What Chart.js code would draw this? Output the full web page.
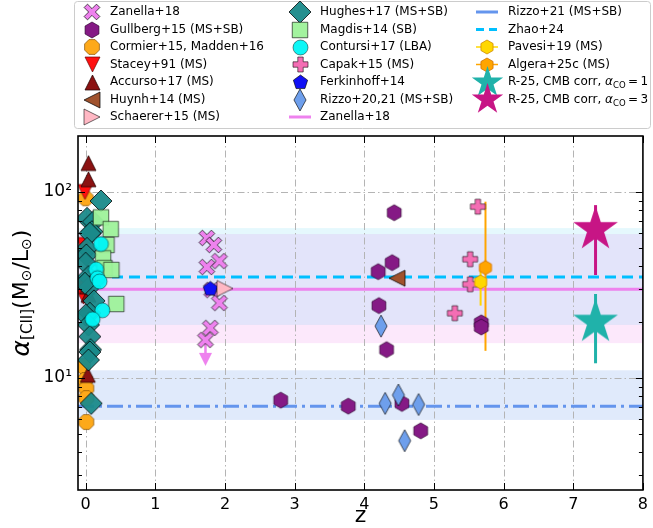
<!DOCTYPE html>
<html>
<head>
<meta charset="utf-8">
<script src="https://cdn.jsdelivr.net/npm/chart.js@4/dist/chart.umd.min.js"></script>
<style>
  html, body { margin: 0; padding: 0; background: #fff; }
  canvas { display: block; }
</style>
</head>
<body>
<canvas id="alphaChart" width="653" height="528"></canvas>
<script>
// ---- axes ----
const xTicks = [0, 1, 2, 3, 4, 5, 6, 7, 8];
const yTicks = [10, 100];
const yTickLabels = ['10\u00b9', '10\u00b2'];
const yMinorTicks = [3, 4, 5, 6, 7, 8, 9, 20, 30, 40, 50, 60, 70, 80, 90];
const zSpan = [-0.11, 8.0];

// ---- literature points (z, alpha_[CII]) ----
const zanellaZ = [1.74, 1.84, 1.92, 1.74, 1.81, 1.92, 1.79, 1.72];
const zanellaA = [56.6, 51.9, 42.5, 39.5, 29.7, 25.3, 18.6, 16.0];
const zanellaLimZ = [1.72, 1.72];
const zanellaLimA = [16.0, 12.6];

const gullbergZ = [4.43, 4.40, 4.20, 4.21, 4.32, 3.77, 4.54, 4.81, 5.68, 5.68, 2.80];
const gullbergA = [77.4, 41.7, 37.3, 24.5, 14.2, 7.06, 7.3, 5.2, 19.8, 18.8, 7.6];

const cormierZ = [0.0, -0.04, -0.01, 0.01, 0.01, 0.01];
const cormierA = [92.5, 11.6, 9.75, 8.8, 7.8, 5.8];

const staceyZ = [-0.01, -0.03, -0.04, -0.03];
const staceyA = [100, 52, 30.5, 27.4];

const accursoZ = [0.04, 0.04, 0.04, 0.02, 0.03];
const accursoA = [143, 117, 28, 31, 10.4];

const huynhZ = [4.47];
const huynhA = [34.4];

const schaererZ = [2.0];
const schaererA = [30.3];

const hughesZ = [0.22, 0.02, 0.11, 0.09, 0.06, 0.02, 0.01, 0.0, 0.04, 0.06, -0.01, 0.12, 0.06, 0.0, 0.04, 0.06, 0.07, 0.06, 0.04, 0.08];
const hughesA = [89.5, 72.2, 69.2, 61.2, 60, 49.8, 45.9, 41.4, 35.1, 31.0, 32.3, 26.0, 22.3, 21.8, 19.3, 16.7, 14.2, 13.8, 12.5, 7.3];

const magdisZ = [0.22, 0.36, 0.30, 0.25, 0.27, 0.37, 0.44];
const magdisA = [73.0, 63.2, 51.9, 44.0, 39.0, 38.1, 25.0];

const contursiZ = [0.22, 0.15, 0.17, 0.20, 0.24, 0.10];
const contursiA = [52.5, 38.4, 34.4, 33.0, 23.1, 20.7];

const capakZ = [5.63, 5.52, 5.52, 5.30];
const capakA = [83.4, 43.5, 31.9, 22.3];

const ferkinhoffZ = [1.79];
const ferkinhoffA = [30.1];

const rizzo20Z = [4.24, 4.30, 4.49, 4.78, 4.58];
const rizzo20A = [19.0, 7.3, 8.1, 7.2, 4.6];

const pavesiZ = [5.67];
const pavesiA = [32.8];
const pavesiErr = [24.5, 40.0];

const algeraZ = [5.74];
const algeraA = [39.2];
const algeraErr = [14.0, 88.7];

const r25Z = [7.32];
const r25A1 = [20.0];
const r25A1Err = [12.0, 28.3];
const r25A3 = [63.0];
const r25A3Err = [35.8, 85.0];

// ---- reference levels and ranges ----
const zanellaLevel = 30.0;
const zhaoLevel = 34.9;
const rizzo21Level = 7.06;
const bandLow = [15.4, 19.3, 5.95];   // Zanella+18, Zhao+24, Rizzo+21
const bandHigh = [59.4, 64.0, 11.0];
const bandColors = ['rgba(240,140,235,0.2)', 'rgba(0,190,240,0.1)', 'rgba(100,149,237,0.2)'];

const FONT = '"DejaVu Sans", sans-serif';

function marker(shape, size, fill, edge, lw, alpha) {
  edge = edge === undefined ? 'rgba(0,0,0,0.8)' : edge;
  lw = lw === undefined ? 0.8 : lw;
  const s = Math.ceil(size + 6);
  const c = document.createElement('canvas');
  c.width = s; c.height = s;
  const g = c.getContext('2d');
  g.translate(s / 2, s / 2);
  g.globalAlpha = alpha || 1;
  const r = size / 2;
  const poly = p => p.forEach(([px, py], i) => i ? g.lineTo(px * r, py * r) : g.moveTo(px * r, py * r));
  const reg = (n, rot) => {
    for (let i = 0; i < n; i++) {
      const t = rot + i * 2 * Math.PI / n;
      i ? g.lineTo(r * Math.cos(t), r * Math.sin(t)) : g.moveTo(r * Math.cos(t), r * Math.sin(t));
    }
  };
  const plus = (w, L) => poly([[-w, -L], [w, -L], [w, -w], [L, -w], [L, w], [w, w], [w, L], [-w, L], [-w, w], [-L, w], [-L, -w], [-w, -w]]);
  g.beginPath();
  switch (shape) {
    case 'circle': g.arc(0, 0, r, 0, Math.PI * 2); break;
    case 'square': poly([[-1, -1], [1, -1], [1, 1], [-1, 1]]); break;
    case 'diamond': poly([[0, -1], [1, 0], [0, 1], [-1, 0]]); break;
    case 'thinDiamond': poly([[0, -1], [0.55, 0], [0, 1], [-0.55, 0]]); break;
    case 'hexagon': reg(6, -Math.PI / 2); break;
    case 'octagon': reg(8, -Math.PI / 2 + Math.PI / 8); break;
    case 'pentagon': reg(5, -Math.PI / 2); break;
    case 'triUp': poly([[0, -1], [1, 1], [-1, 1]]); break;
    case 'triDown': poly([[0, 1], [1, -1], [-1, -1]]); break;
    case 'triLeft': poly([[-1, 0], [1, -1], [1, 1]]); break;
    case 'triRight': poly([[1, 0], [-1, -1], [-1, 1]]); break;
    case 'plus': plus(0.36, 1); break;
    case 'cross': g.rotate(Math.PI / 4); plus(0.34, 1.25); break;
    case 'star':
      for (let i = 0; i < 10; i++) {
        const t = -Math.PI / 2 + i * Math.PI / 5;
        const rr = (i % 2 ? 0.382 : 1) * r;
        i ? g.lineTo(rr * Math.cos(t), rr * Math.sin(t)) : g.moveTo(rr * Math.cos(t), rr * Math.sin(t));
      }
      break;
  }
  g.closePath();
  g.fillStyle = fill;
  g.fill();
  if (lw > 0) { g.lineWidth = lw; g.strokeStyle = edge; g.stroke(); }
  return c;
}

const M = {
  zanella: marker('cross', 14, '#ee82ee'),
  gullberg: marker('hexagon', 16, '#851a85', 'rgba(40,0,40,0.8)'),
  cormier: marker('octagon', 16, '#fda91a', 'rgba(120,70,0,0.8)'),
  stacey: marker('triDown', 15, '#ff1010', 'rgba(90,0,0,0.8)'),
  accurso: marker('triUp', 15, '#8b1212', 'rgba(30,0,0,0.9)'),
  huynh: marker('triLeft', 16, '#a0522d', 'rgba(0,0,0,0.9)'),
  schaerer: marker('triRight', 16, '#ffb8c4', 'rgba(0,0,0,0.7)'),
  hughes: marker('diamond', 22, '#1a8a8a', 'rgba(0,0,0,0.9)', 0.9, 0.95),
  magdis: marker('square', 15.5, '#9ef29a', 'rgba(0,0,0,0.8)', 0.8, 0.95),
  contursi: marker('circle', 15, '#00f6f6', 'rgba(0,0,0,0.6)', 0.8, 0.95),
  capak: marker('plus', 15, '#f46eb4', 'rgba(0,0,0,0.7)'),
  ferkinhoff: marker('pentagon', 15, '#1010f5', 'rgba(0,0,0,0.8)'),
  rizzo20: marker('thinDiamond', 22, '#6e9fec', 'rgba(0,0,0,0.8)'),
  pavesi: marker('hexagon', 14, '#ffd700', '#d08a00'),
  algera: marker('hexagon', 14, '#ffa500', '#d07000'),
  r1: marker('star', 47, '#20b2aa', null, 0),
  r3: marker('star', 47, '#c71585', null, 0),
  r1Leg: marker('star', 33, '#20b2aa', null, 0),
  r3Leg: marker('star', 33, '#c71585', null, 0),
  arrowHead: marker('triDown', 13, '#ee82ee', null, 0)
};

function pts(xs, ys) { return xs.map((v, i) => ({ x: v, y: ys[i] })); }
function scatterSet(label, xs, ys, style) {
  return { label, data: pts(xs, ys), pointStyle: style, pointRadius: 6, pointHoverRadius: 6, showLine: false, clip: 0 };
}
function lineSet(label, xs, ys, color, width, dash) {
  return { label, data: pts(xs, ys), showLine: true, borderColor: color, borderWidth: width, borderDash: dash || [], pointRadius: 0, pointHoverRadius: 0, fill: false, tension: 0, clip: 0 };
}

// listed bottom -> top
const layers = [
  lineSet('Rizzo+21 (MS+SB)', zSpan, [rizzo21Level, rizzo21Level], '#6495ed', 3, [16, 5, 3, 5]),
  lineSet('Zhao+24', zSpan, [zhaoLevel, zhaoLevel], '#00bfff', 3, [11, 6]),
  lineSet('Zanella+18', zSpan, [zanellaLevel, zanellaLevel], '#ee82ee', 3),
  lineSet('Algera err', [algeraZ[0], algeraZ[0]], algeraErr, '#ffa500', 2),
  lineSet('Pavesi err', [pavesiZ[0], pavesiZ[0]], pavesiErr, '#ffd700', 2),
  scatterSet('Cormier+15, Madden+16', cormierZ, cormierA, M.cormier),
  scatterSet('Stacey+91 (MS)', staceyZ, staceyA, M.stacey),
  scatterSet('Accurso+17 (MS)', accursoZ, accursoA, M.accurso),
  scatterSet('Hughes+17 (MS+SB)', hughesZ, hughesA, M.hughes),
  scatterSet('Magdis+14 (SB)', magdisZ, magdisA, M.magdis),
  scatterSet('Contursi+17 (LBA)', contursiZ, contursiA, M.contursi),
  lineSet('Zanella limit', zanellaLimZ, zanellaLimA, '#ee82ee', 2.5),
  scatterSet('Zanella limit head', [zanellaLimZ[1]], [zanellaLimA[1]], M.arrowHead),
  scatterSet('Zanella+18', zanellaZ, zanellaA, M.zanella),
  scatterSet('Ferkinhoff+14', ferkinhoffZ, ferkinhoffA, M.ferkinhoff),
  scatterSet('Schaerer+15 (MS)', schaererZ, schaererA, M.schaerer),
  scatterSet('Gullberg+15 (MS+SB)', gullbergZ, gullbergA, M.gullberg),
  scatterSet('Rizzo+20,21 (MS+SB)', rizzo20Z, rizzo20A, M.rizzo20),
  scatterSet('Huynh+14 (MS)', huynhZ, huynhA, M.huynh),
  scatterSet('Capak+15 (MS)', capakZ, capakA, M.capak),
  scatterSet('Algera+25c (MS)', algeraZ, algeraA, M.algera),
  scatterSet('Pavesi+19 (MS)', pavesiZ, pavesiA, M.pavesi),
  lineSet('R-25 a1 err', [r25Z[0], r25Z[0]], r25A1Err, '#20b2aa', 3),
  lineSet('R-25 a3 err', [r25Z[0], r25Z[0]], r25A3Err, '#c71585', 3),
  scatterSet('R-25, CMB corr, aCO=1', r25Z, r25A1, M.r1),
  scatterSet('R-25, CMB corr, aCO=3', r25Z, r25A3, M.r3)
];
const datasets = layers.slice().reverse();

// legend entries, column-major like the original figure
const legendItems = [
  { text: 'Zanella+18', m: M.zanella },
  { text: 'Gullberg+15 (MS+SB)', m: M.gullberg },
  { text: 'Cormier+15, Madden+16', m: M.cormier },
  { text: 'Stacey+91 (MS)', m: M.stacey },
  { text: 'Accurso+17 (MS)', m: M.accurso },
  { text: 'Huynh+14 (MS)', m: M.huynh },
  { text: 'Schaerer+15 (MS)', m: M.schaerer },
  { text: 'Hughes+17 (MS+SB)', m: M.hughes },
  { text: 'Magdis+14 (SB)', m: M.magdis },
  { text: 'Contursi+17 (LBA)', m: M.contursi },
  { text: 'Capak+15 (MS)', m: M.capak },
  { text: 'Ferkinhoff+14', m: M.ferkinhoff },
  { text: 'Rizzo+20,21 (MS+SB)', m: M.rizzo20 },
  { text: 'Zanella+18', line: '#ee82ee', dash: [] },
  { text: 'Rizzo+21 (MS+SB)', line: '#6495ed', dash: [] },
  { text: 'Zhao+24', line: '#00bfff', dash: [8, 5] },
  { text: 'Pavesi+19 (MS)', m: M.pavesi, line: '#ffd700', thin: true },
  { text: 'Algera+25c (MS)', m: M.algera, line: '#ffa500', thin: true },
  { text: 'R-25, CMB corr, ', greek: '\u03b1', sub: 'CO', after: '\u2009=\u20091', m: M.r1Leg },
  { text: 'R-25, CMB corr, ', greek: '\u03b1', sub: 'CO', after: '\u2009=\u20093', m: M.r3Leg }
];

function hLine(ctx, x1, x2, y, color, width, dash) {
  ctx.save();
  ctx.strokeStyle = color; ctx.lineWidth = width; ctx.setLineDash(dash || []);
  ctx.beginPath(); ctx.moveTo(x1, y); ctx.lineTo(x2, y); ctx.stroke();
  ctx.restore();
}

const decor = {
  id: 'decor',
  beforeDatasetsDraw(chart) {
    const { ctx, chartArea: a, scales: { x, y } } = chart;
    ctx.save();
    ctx.beginPath();
    ctx.rect(a.left, a.top, a.right - a.left, a.bottom - a.top);
    ctx.clip();
    bandLow.forEach((lo, i) => {
      const top = y.getPixelForValue(bandHigh[i]);
      const bot = y.getPixelForValue(lo);
      ctx.fillStyle = bandColors[i];
      ctx.fillRect(a.left, top, a.right - a.left, bot - top);
    });
    ctx.strokeStyle = '#b4b4b4';
    ctx.lineWidth = 1;
    ctx.setLineDash([7, 3, 1.5, 3]);
    xTicks.forEach(v => {
      const px = Math.round(x.getPixelForValue(v)) + 0.5;
      ctx.beginPath(); ctx.moveTo(px, a.top); ctx.lineTo(px, a.bottom); ctx.stroke();
    });
    yTicks.forEach(v => {
      const py = Math.round(y.getPixelForValue(v)) + 0.5;
      ctx.beginPath(); ctx.moveTo(a.left, py); ctx.lineTo(a.right, py); ctx.stroke();
    });
    ctx.restore();
  },
  afterDatasetsDraw(chart) {
    const { ctx, chartArea: a, scales: { x, y } } = chart;
    ctx.save();
    ctx.strokeStyle = '#000';
    ctx.lineWidth = 1;
    ctx.beginPath();
    yTicks.forEach(v => {
      const py = Math.round(y.getPixelForValue(v)) + 0.5;
      ctx.moveTo(a.left, py); ctx.lineTo(a.left + 7, py);
      ctx.moveTo(a.right, py); ctx.lineTo(a.right - 7, py);
    });
    yMinorTicks.forEach(v => {
      const py = Math.round(y.getPixelForValue(v)) + 0.5;
      ctx.moveTo(a.left, py); ctx.lineTo(a.left + 4, py);
      ctx.moveTo(a.right, py); ctx.lineTo(a.right - 4, py);
    });
    xTicks.forEach(v => {
      const px = Math.round(x.getPixelForValue(v)) + 0.5;
      ctx.moveTo(px, a.bottom); ctx.lineTo(px, a.bottom - 7);
      ctx.moveTo(px, a.top); ctx.lineTo(px, a.top + 7);
    });
    ctx.stroke();
    ctx.lineWidth = 1.6;
    ctx.strokeRect(a.left, a.top, a.right - a.left, a.bottom - a.top);
    ctx.restore();
  },
  afterDraw(chart) {
    const { ctx, chartArea: a } = chart;
    ctx.save();
    // legend frame
    const bx = 74.5, by = 1.5, bw = 576, bh = 127, rad = 3;
    ctx.beginPath();
    ctx.moveTo(bx + rad, by);
    ctx.arcTo(bx + bw, by, bx + bw, by + bh, rad);
    ctx.arcTo(bx + bw, by + bh, bx, by + bh, rad);
    ctx.arcTo(bx, by + bh, bx, by, rad);
    ctx.arcTo(bx, by, bx + bw, by, rad);
    ctx.closePath();
    ctx.fillStyle = '#fff';
    ctx.fill();
    ctx.strokeStyle = '#cccccc';
    ctx.lineWidth = 1;
    ctx.stroke();

    const colMarkX = [92, 300, 487];
    const colTextX = [110, 320, 508];
    ctx.textBaseline = 'middle';
    ctx.fillStyle = '#000';
    legendItems.forEach((it, i) => {
      const col = Math.floor(i / 7), row = i % 7;
      const yy = 12 + row * 17.5;
      const mx = colMarkX[col];
      if (it.line) hLine(ctx, mx - 11, mx + 11, yy, it.line, it.thin ? 1.5 : 3, it.dash);
      if (it.m) ctx.drawImage(it.m, Math.round(mx - it.m.width / 2), Math.round(yy - it.m.height / 2));
      ctx.fillStyle = '#000';
      ctx.font = '12px ' + FONT;
      let tx = colTextX[col];
      ctx.fillText(it.text, tx, yy);
      if (it.sub) {
        tx += ctx.measureText(it.text).width;
        ctx.font = 'italic 12px ' + FONT;
        ctx.fillText(it.greek, tx, yy);
        tx += ctx.measureText(it.greek).width;
        ctx.font = '8.5px ' + FONT;
        ctx.fillText(it.sub, tx, yy + 4);
        tx += ctx.measureText(it.sub).width;
        ctx.font = '12px ' + FONT;
        ctx.fillText(it.after, tx, yy);
      }
    });

    // x title
    ctx.font = '22px ' + FONT;
    ctx.textAlign = 'center';
    ctx.textBaseline = 'middle';
    ctx.fillText('z', (a.left + a.right) / 2, 516);

    // y title with subscripts
    const segs = [
      { t: '\u03b1', f: 'italic 25px ' + FONT, dy: 0 },
      { t: '[CII]', f: '15px ' + FONT, dy: 6 },
      { t: '(M', f: '22px ' + FONT, dy: 0 },
      { t: '\u2299', f: '14px ' + FONT, dy: 5 },
      { t: '/L', f: '22px ' + FONT, dy: 0 },
      { t: '\u2299', f: '14px ' + FONT, dy: 5 },
      { t: ')', f: '22px ' + FONT, dy: 0 }
    ];
    let total = 0;
    segs.forEach(s => { ctx.font = s.f; s.w = ctx.measureText(s.t).width; total += s.w; });
    ctx.translate(22, 293);
    ctx.rotate(-Math.PI / 2);
    ctx.textAlign = 'left';
    let cx = -total / 2;
    segs.forEach(s => { ctx.font = s.f; ctx.fillText(s.t, cx, s.dy); cx += s.w; });
    ctx.restore();
  }
};

new Chart(document.getElementById('alphaChart').getContext('2d'), {
  type: 'scatter',
  data: { datasets: datasets },
  options: {
    responsive: false,
    animation: false,
    events: [],
    layout: { padding: { left: 0, right: 4, top: 136, bottom: 0 } },
    plugins: { legend: { display: false }, tooltip: { enabled: false } },
    scales: {
      x: {
        type: 'linear',
        min: zSpan[0],
        max: zSpan[1],
        afterBuildTicks: s => { s.ticks = xTicks.map(v => ({ value: v })); },
        afterFit: s => { s.height = 38; },
        grid: { display: false, drawTicks: false },
        border: { display: false },
        ticks: { color: '#000', font: { family: FONT, size: 16 }, padding: 5, maxRotation: 0, autoSkip: false, callback: v => String(v) }
      },
      y: {
        type: 'logarithmic',
        min: 2.5,
        max: 200,
        afterBuildTicks: s => { s.ticks = yTicks.map(v => ({ value: v })); },
        afterFit: s => { s.width = 78; },
        grid: { display: false, drawTicks: false },
        border: { display: false },
        ticks: { color: '#000', font: { family: FONT, size: 17 }, padding: 6, autoSkip: false, callback: (v, i) => yTickLabels[i] }
      }
    }
  },
  plugins: [decor]
});
</script>
</body>
</html>
